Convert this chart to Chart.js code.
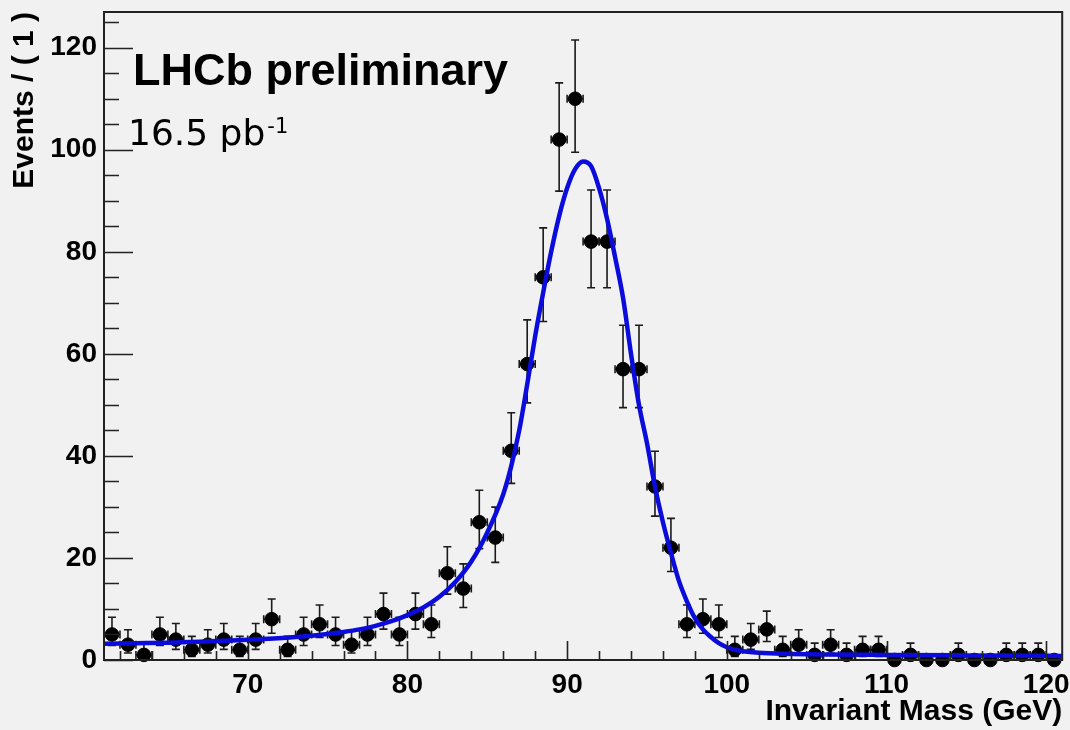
<!DOCTYPE html>
<html>
<head>
<meta charset="utf-8">
<title>Z mass peak</title>
<script src="https://cdn.jsdelivr.net/npm/chart.js@4.4.1/dist/chart.umd.min.js"></script>
<style>
    html, body { margin: 0; padding: 0; background: #f1f1f1; }
    #wrap { position: relative; width: 1070px; height: 730px; }
</style>
</head>
<body>
<div id="wrap"><canvas id="massChart"></canvas></div>
<script>
// Bin centres (1 GeV bins) and event counts
const massBins = [
    61.5, 62.5, 63.5, 64.5, 65.5, 66.5, 67.5, 68.5, 69.5, 70.5,
    71.5, 72.5, 73.5, 74.5, 75.5, 76.5, 77.5, 78.5, 79.5, 80.5,
    81.5, 82.5, 83.5, 84.5, 85.5, 86.5, 87.5, 88.5, 89.5, 90.5,
    91.5, 92.5, 93.5, 94.5, 95.5, 96.5, 97.5, 98.5, 99.5, 100.5,
    101.5, 102.5, 103.5, 104.5, 105.5, 106.5, 107.5, 108.5, 109.5, 110.5,
    111.5, 112.5, 113.5, 114.5, 115.5, 116.5, 117.5, 118.5, 119.5, 120.5
];
const events = [
    5, 3, 1, 5, 4, 2, 3, 4, 2, 4,
    8, 2, 5, 7, 5, 3, 5, 9, 5, 9,
    7, 17, 14, 27, 24, 41, 58, 75, 102, 110,
    82, 82, 57, 57, 34, 22, 7, 8, 7, 2,
    4, 6, 2, 3, 1, 3, 1, 2, 2, 0,
    1, 0, 0, 1, 0, 0, 1, 1, 1, 0
];
// Asymmetric (Poisson) error bars
const errLow = [
    2.16, 1.63, 0.83, 2.16, 1.91, 1.29, 1.63, 1.91, 1.29, 1.91,
    2.77, 1.29, 2.16, 2.58, 2.16, 1.63, 2.16, 2.94, 2.16, 2.94,
    2.58, 4.09, 3.71, 5.17, 4.87, 6.39, 7.60, 8.65, 10.1, 10.5,
    9.05, 9.05, 7.53, 7.53, 5.80, 4.66, 2.58, 2.77, 2.58, 1.29,
    1.91, 2.38, 1.29, 1.63, 0.83, 1.63, 0.83, 1.29, 1.29, 0,
    0.83, 0, 0, 0.83, 0, 0, 0.83, 0.83, 0.83, 0
];
const errHigh = [
    3.38, 2.92, 2.30, 3.38, 3.16, 2.64, 2.92, 3.16, 2.64, 3.16,
    3.95, 2.64, 3.38, 3.77, 3.38, 2.92, 3.38, 4.11, 3.38, 4.11,
    3.77, 5.20, 4.83, 6.26, 5.96, 7.45, 8.66, 9.70, 11.1, 11.5,
    10.1, 10.1, 8.60, 8.60, 6.90, 5.76, 3.77, 3.95, 3.77, 2.64,
    3.16, 3.58, 2.64, 2.92, 2.30, 2.92, 2.30, 2.64, 2.64, 0,
    2.30, 0, 0, 2.30, 0, 0, 2.30, 2.30, 2.30, 0
];
const binHalfWidth = 0.5;

// Fitted signal + background curve
const fitMass = [
    61, 63, 65, 67, 69, 71, 73, 75, 76, 77, 78, 79, 80, 81, 82, 83, 84, 85, 86,
    86.5, 87, 87.5, 88, 88.5, 89, 89.5, 90, 90.5, 91, 91.5, 92, 92.5, 93, 93.5,
    94, 94.5, 95, 95.5, 96, 96.5, 97, 97.5, 98, 98.5, 99, 99.5, 100, 100.5, 101,
    102, 104, 106, 110, 115, 121
];
const fitValue = [
    3.2, 3.3, 3.4, 3.6, 3.8, 4.1, 4.5, 5.1, 5.5, 6.0, 6.7, 7.6, 8.8, 10.3, 12.4, 15.3, 19.3, 25, 32.5,
    38, 45, 54, 63.5, 72, 80, 87, 92.5, 96.2, 97.7, 96.8, 92.5, 86.5, 79, 71,
    60, 50, 42.5, 34, 27, 21, 15.5, 11.5, 8.2, 6, 4.5, 3.3, 2.5, 2.0, 1.7,
    1.4, 1.2, 1.1, 1.0, 0.9, 0.8
];

// Axis tick marks and labels
const xTickMarks = [62, 64, 66, 68, 70, 72, 74, 76, 78, 80, 82, 84, 86, 88, 90, 92, 94, 96, 98, 100,
    102, 104, 106, 108, 110, 112, 114, 116, 118, 120];
const xTickLabels = [70, 80, 90, 100, 110, 120];
const yTickMarks = [0, 5, 10, 15, 20, 25, 30, 35, 40, 45, 50, 55, 60, 65, 70, 75, 80, 85, 90, 95,
    100, 105, 110, 115, 120, 125];
const yTickLabels = [0, 20, 40, 60, 80, 100, 120];

Chart.defaults.font.family = '"Liberation Sans", Arial, sans-serif';
Chart.defaults.font.weight = 'bold';
Chart.defaults.color = '#000';

// Error bars go underneath the markers and the fit line
const errorBars = {
    id: 'errorBars',
    beforeDatasetsDraw(chart) {
        const { ctx, scales: { x, y } } = chart;
        ctx.save();
        ctx.strokeStyle = '#1a1a1a';
        ctx.lineWidth = 1.6;
        const cap = 4;
        massBins.forEach((m, i) => {
            if (events[i] === 0) return;
            const px = x.getPixelForValue(m);
            const py = y.getPixelForValue(events[i]);
            const yTop = y.getPixelForValue(events[i] + errHigh[i]);
            const yBot = y.getPixelForValue(events[i] - errLow[i]);
            const xL = x.getPixelForValue(m - binHalfWidth);
            const xR = x.getPixelForValue(m + binHalfWidth);
            ctx.beginPath();
            ctx.moveTo(px, yTop); ctx.lineTo(px, yBot);
            ctx.moveTo(px - cap, yTop); ctx.lineTo(px + cap, yTop);
            ctx.moveTo(px - cap, yBot); ctx.lineTo(px + cap, yBot);
            ctx.moveTo(xL, py); ctx.lineTo(xR, py);
            ctx.moveTo(xL, py - cap); ctx.lineTo(xL, py + cap);
            ctx.moveTo(xR, py - cap); ctx.lineTo(xR, py + cap);
            ctx.stroke();
        });
        ctx.restore();
    }
};

// Frame with inward ticks, plus the labels inside the plot
const frameAndText = {
    id: 'frameAndText',
    afterDatasetsDraw(chart) {
        const { ctx, chartArea: a, scales: { x, y } } = chart;
        ctx.save();
        ctx.strokeStyle = '#222';
        ctx.lineWidth = 2;
        ctx.strokeRect(a.left, a.top, a.right - a.left, a.bottom - a.top);
        ctx.beginPath();
        xTickMarks.forEach(v => {
            const px = Math.round(x.getPixelForValue(v)) + 0.5;
            const len = xTickLabels.includes(v) ? 19 : 9;
            ctx.moveTo(px, a.bottom); ctx.lineTo(px, a.bottom - len);
        });
        yTickMarks.forEach(v => {
            const py = Math.round(y.getPixelForValue(v)) + 0.5;
            const len = yTickLabels.includes(v) ? 29 : 15;
            ctx.moveTo(a.left, py); ctx.lineTo(a.left + len, py);
        });
        ctx.lineWidth = 1.6;
        ctx.stroke();

        ctx.fillStyle = '#000';
        ctx.textBaseline = 'alphabetic';
        ctx.textAlign = 'left';
        ctx.font = 'bold 45px "Liberation Sans", Arial, sans-serif';
        ctx.fillText('LHCb preliminary', 133, 85);
        ctx.font = '36px "DejaVu Sans", Verdana, sans-serif';
        ctx.fillText('16.5 pb', 128, 145);
        const w = ctx.measureText('16.5 pb').width;
        ctx.font = '21px "DejaVu Sans", Verdana, sans-serif';
        ctx.fillText('-1', 128 + w + 2, 133);
        ctx.restore();
    }
};

new Chart(document.getElementById('massChart'), {
    type: 'scatter',
    data: {
        datasets: [
            {
                type: 'line',
                label: 'fit',
                data: fitMass.map((m, i) => ({ x: m, y: fitValue[i] })),
                borderColor: '#0b0bdc',
                borderWidth: 4.5,
                pointRadius: 0,
                cubicInterpolationMode: 'monotone',
                fill: false,
                order: 0
            },
            {
                label: 'data',
                data: massBins.map((m, i) => ({ x: m, y: events[i] })),
                backgroundColor: '#000',
                borderColor: '#000',
                pointRadius: 6.8,
                pointStyle: 'circle',
                clip: false,
                order: 1
            }
        ]
    },
    options: {
        responsive: true,
        maintainAspectRatio: false,
        animation: false,
        layout: { padding: { left: 0, top: 12, right: 7, bottom: 0 } },
        plugins: {
            legend: { display: false },
            tooltip: { enabled: false }
        },
        scales: {
            x: {
                type: 'linear',
                min: 61,
                max: 121,
                afterBuildTicks: s => { s.ticks = xTickMarks.map(v => ({ value: v })); },
                afterFit: s => {
                    s.height = 70;
                    s.paddingLeft = 0;
                    s.paddingRight = 0;
                },
                grid: { display: false, drawTicks: false },
                border: { display: false },
                ticks: {
                    autoSkip: false,
                    maxRotation: 0,
                    padding: 8,
                    font: { size: 28, weight: 'bold' },
                    callback: v => xTickLabels.includes(v) ? String(v) : ''
                },
                title: {
                    display: true,
                    text: 'Invariant Mass (GeV)',
                    align: 'end',
                    font: { size: 30, weight: 'bold' },
                    padding: { top: 0, bottom: 0 }
                }
            },
            y: {
                type: 'linear',
                min: 0,
                max: 127,
                afterBuildTicks: s => { s.ticks = yTickMarks.map(v => ({ value: v })); },
                afterFit: s => {
                    s.width = 104;
                    s.paddingTop = 0;
                    s.paddingBottom = 0;
                },
                grid: { display: false, drawTicks: false },
                border: { display: false },
                ticks: {
                    autoSkip: false,
                    padding: 7,
                    font: { size: 28, weight: 'bold' },
                    callback: v => yTickLabels.includes(v) ? String(v) : ''
                },
                title: {
                    display: true,
                    text: 'Events / ( 1 )',
                    align: 'end',
                    font: { size: 30, weight: 'bold' },
                    padding: { top: 7, bottom: 0 }
                }
            }
        }
    },
    plugins: [errorBars, frameAndText]
});
</script>
</body>
</html>
